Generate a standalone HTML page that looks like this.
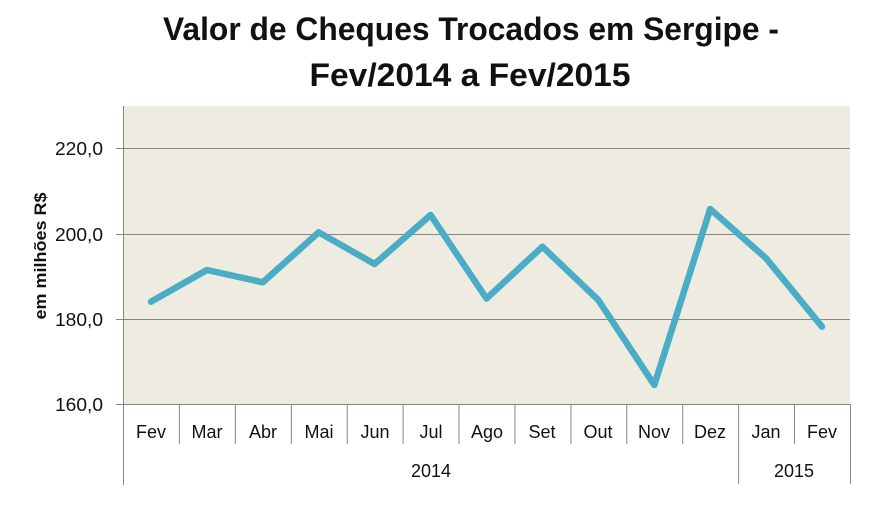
<!DOCTYPE html>
<html>
<head>
<meta charset="utf-8">
<style>
  html, body { margin: 0; padding: 0; background: #ffffff; }
  svg { display: block; }
  text { font-family: "Liberation Sans", "DejaVu Sans", sans-serif; fill: #111; }
</style>
</head>
<body>
<svg width="885" height="507" viewBox="0 0 885 507" xmlns="http://www.w3.org/2000/svg">
  <rect x="0" y="0" width="885" height="507" fill="#ffffff"/>

  <!-- Title -->
  <text x="471" y="40" text-anchor="middle" font-size="32" font-weight="bold" textLength="616" lengthAdjust="spacingAndGlyphs">Valor de Cheques Trocados em Sergipe -</text>
  <text x="470" y="86" text-anchor="middle" font-size="32" font-weight="bold" textLength="321" lengthAdjust="spacingAndGlyphs">Fev/2014 a Fev/2015</text>

  <!-- Plot area -->
  <rect x="123" y="106" width="727" height="298" fill="#EEECE1"/>

  <!-- Gridlines -->
  <g stroke="#868686" stroke-width="1">
    <line x1="116" y1="148.5" x2="850" y2="148.5"/>
    <line x1="116" y1="234.5" x2="850" y2="234.5"/>
    <line x1="116" y1="319.5" x2="850" y2="319.5"/>
    <line x1="116" y1="404.5" x2="850" y2="404.5"/>
    <!-- vertical axis -->
    <line x1="123.5" y1="106" x2="123.5" y2="485"/>
    <!-- category dividers -->
    <line x1="179.4" y1="404" x2="179.4" y2="444"/>
    <line x1="235.3" y1="404" x2="235.3" y2="444"/>
    <line x1="291.3" y1="404" x2="291.3" y2="444"/>
    <line x1="347.2" y1="404" x2="347.2" y2="444"/>
    <line x1="403.1" y1="404" x2="403.1" y2="444"/>
    <line x1="459.0" y1="404" x2="459.0" y2="444"/>
    <line x1="514.9" y1="404" x2="514.9" y2="444"/>
    <line x1="570.9" y1="404" x2="570.9" y2="444"/>
    <line x1="626.8" y1="404" x2="626.8" y2="444"/>
    <line x1="682.7" y1="404" x2="682.7" y2="444"/>
    <line x1="738.6" y1="404" x2="738.6" y2="484"/>
    <line x1="794.5" y1="404" x2="794.5" y2="444"/>
    <line x1="850.5" y1="404" x2="850.5" y2="484"/>
  </g>

  <!-- Y axis labels -->
  <g font-size="18">
    <text x="55" y="155" textLength="48" lengthAdjust="spacingAndGlyphs">220,0</text>
    <text x="55" y="241" textLength="48" lengthAdjust="spacingAndGlyphs">200,0</text>
    <text x="55" y="326" textLength="48" lengthAdjust="spacingAndGlyphs">180,0</text>
    <text x="55" y="411" textLength="48" lengthAdjust="spacingAndGlyphs">160,0</text>
  </g>

  <!-- Y axis title -->
  <text transform="translate(46,256) rotate(-90)" text-anchor="middle" font-size="17" font-weight="bold" textLength="127" lengthAdjust="spacingAndGlyphs">em milhões R$</text>

  <!-- Category labels -->
  <g font-size="18" text-anchor="middle">
    <text x="151" y="438">Fev</text>
    <text x="207" y="438">Mar</text>
    <text x="263" y="438">Abr</text>
    <text x="319" y="438">Mai</text>
    <text x="375" y="438">Jun</text>
    <text x="431" y="438">Jul</text>
    <text x="487" y="438">Ago</text>
    <text x="542" y="438">Set</text>
    <text x="598" y="438">Out</text>
    <text x="654" y="438">Nov</text>
    <text x="710" y="438">Dez</text>
    <text x="766" y="438">Jan</text>
    <text x="822" y="438">Fev</text>
    <text x="431" y="477">2014</text>
    <text x="794" y="477">2015</text>
  </g>

  <!-- Series -->
  <polyline fill="none" stroke="#4BACC6" stroke-width="6.5" stroke-linejoin="round" stroke-linecap="round"
    points="151,301.7 206.9,270 262.8,282.3 318.7,232.3 374.6,264 430.6,215 486.5,298.5 542.4,246.7 598.3,300 654.3,385 710.2,209 766.1,258.3 822,326.7"/>
</svg>
</body>
</html>
